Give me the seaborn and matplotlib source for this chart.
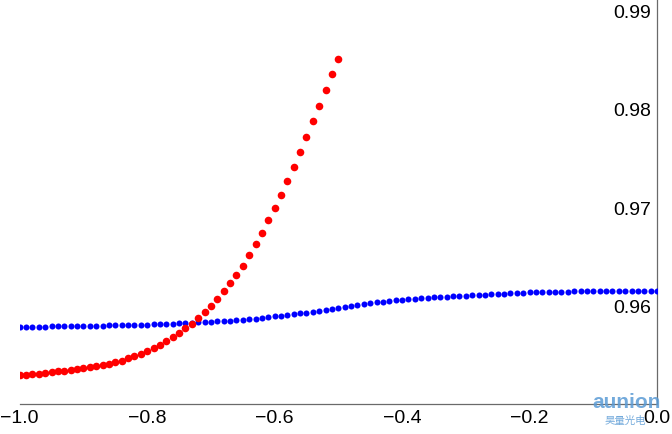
import numpy as np
import pandas as pd
import matplotlib
matplotlib.use("Agg")
import matplotlib.pyplot as plt
from matplotlib.ticker import MultipleLocator, FuncFormatter
import seaborn as sns

# values, step 0.01 in x
blue_x = np.round(np.arange(-1.0, 0.0001, 0.01), 2)
blue_y = [
    0.9580, 0.9580, 0.9580, 0.9580, 0.9580, 0.9581, 0.9581, 0.9581, 0.9581, 0.9581, 0.9581,
    0.9581, 0.9581, 0.9581, 0.9582, 0.9582, 0.9582, 0.9582, 0.9582, 0.9582, 0.9582,
    0.9583, 0.9583, 0.9583, 0.9583, 0.9584, 0.9584, 0.9584, 0.9585, 0.9585, 0.9585,
    0.9586, 0.9586, 0.9586, 0.9587, 0.9587, 0.9588, 0.9588, 0.9589, 0.9590, 0.9591,
    0.9591, 0.9592, 0.9593, 0.9594, 0.9594, 0.9595, 0.9596, 0.9597, 0.9598, 0.9599,
    0.9600, 0.9601, 0.9602, 0.9603, 0.9604, 0.9605, 0.9605, 0.9606, 0.9607, 0.9607,
    0.9608, 0.9608, 0.9609, 0.9609, 0.9610, 0.9610, 0.9610, 0.9611, 0.9611, 0.9611,
    0.9612, 0.9612, 0.9612, 0.9613, 0.9613, 0.9613, 0.9614, 0.9614, 0.9614, 0.9615,
    0.9615, 0.9615, 0.9615, 0.9615, 0.9615, 0.9615, 0.9616, 0.9616, 0.9616, 0.9616,
    0.9616, 0.9616, 0.9616, 0.9616, 0.9616, 0.9616, 0.9616, 0.9616, 0.9616, 0.9616,
]

red_x = np.round(np.arange(-1.0, -0.4999, 0.01), 2)
red_y = [
    0.95303, 0.95308, 0.95314, 0.95320, 0.95329, 0.95337, 0.95344, 0.95351, 0.95360, 0.95368,
    0.95377, 0.95389, 0.95402, 0.95414, 0.95424, 0.95438, 0.95454, 0.95476, 0.95497, 0.95518,
    0.95555, 0.95584, 0.95614, 0.95650, 0.95692, 0.95733, 0.95780, 0.95830, 0.95888, 0.95948,
    0.96009, 0.96080, 0.96161, 0.96238, 0.96328, 0.96419, 0.96525, 0.96637, 0.96748, 0.96878,
    0.97002, 0.97134, 0.97276, 0.97421, 0.97570, 0.97723, 0.97885, 0.98038, 0.98200, 0.98362,
    0.98515,
]

blue_df = pd.DataFrame({"x": blue_x, "y": blue_y})
red_df = pd.DataFrame({"x": red_x, "y": red_y})

sns.set_style("white")
plt.rcParams['font.family'] = ['Liberation Sans', 'DejaVu Sans']

fig = plt.figure(figsize=(6.72, 4.34), dpi=100)
ax = fig.add_axes([19.7 / 672, (434 - 404.3) / 434, 637.3 / 672, 404.3 / 434])

sns.scatterplot(data=blue_df, x="x", y="y", ax=ax, color="#0000ff", s=19, linewidth=0, zorder=3)
sns.scatterplot(data=red_df, x="x", y="y", ax=ax, color="#ff0000", s=30, linewidth=0, zorder=4)

ax.set_xlim(-1.0, 0.0)
ax.set_ylim(0.9501, 0.99117)
ax.set_xlabel("")
ax.set_ylabel("")

# Mathematica style axes: y axis sits at x = 0
axis_col = "#6a6a6a"
ax.spines['top'].set_visible(False)
ax.spines['right'].set_visible(False)
ax.spines['left'].set_position(('data', 0))
for side in ['left', 'bottom']:
    ax.spines[side].set_color(axis_col)
    ax.spines[side].set_linewidth(0.9)

ax.xaxis.set_major_locator(MultipleLocator(0.2))
ax.xaxis.set_minor_locator(MultipleLocator(0.05))
ax.yaxis.set_major_locator(MultipleLocator(0.01))
ax.yaxis.set_minor_locator(MultipleLocator(0.002))
ax.xaxis.set_major_formatter(FuncFormatter(lambda v, p: f"{v:.1f}".replace("-", "\u2212")))
ax.yaxis.set_major_formatter(FuncFormatter(lambda v, p: "" if v < 0.955 else f"{v:.2f}"))

ax.tick_params(which='both', direction='in', color=axis_col, width=0.9, labelsize=14, labelcolor='black')
ax.tick_params(which='major', length=4.3)
ax.tick_params(which='minor', length=2.8)
ax.tick_params(axis='x', pad=4)
ax.tick_params(axis='y', pad=4)
ax.grid(False)

# watermark
fig.text(0.984, 0.05, "aunion", color="#5b9bd5", fontsize=15, fontweight='bold',
         ha='right', va='bottom', alpha=0.85)
fig.text(0.962, 0.018, "昊量光电", color="#5b9bd5", fontsize=7.5,
         ha='right', va='bottom', alpha=0.85, family=['Noto Sans CJK SC', 'DejaVu Sans'])

fig.savefig("out.png", dpi=100)
